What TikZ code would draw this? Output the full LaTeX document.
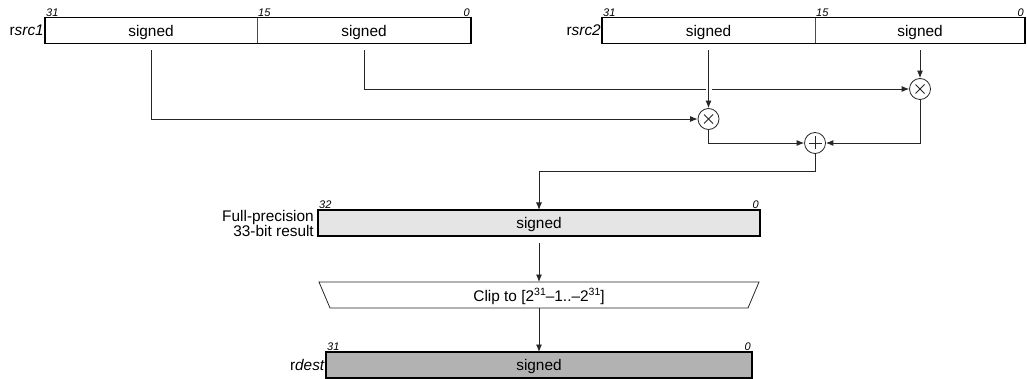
\documentclass[tikz,border=0pt]{standalone}
\usepackage{fontspec}
\setmainfont{Liberation Sans}
\usetikzlibrary{arrows.meta}
\newcommand{\supx}[1]{\raisebox{5.5pt}{\fontsize{10.5}{10}\selectfont #1}}
\begin{document}
\begin{tikzpicture}[x=1pt,y=-1pt,
  font=\fontsize{15.4}{17}\selectfont,
  half/.style={draw=black!70, line width=0.6pt, minimum height=26pt, inner sep=0pt, outer sep=0pt, text depth=0pt},
  frame/.style={draw=black, line width=1.6pt},
  bit/.style={font=\fontsize{11}{12}\selectfont\itshape, inner sep=1pt},
  conn/.style={line width=0.9pt, draw=black!85},
  arr/.style={conn, -{Latex[length=7.5pt,width=6pt]}},
  op/.style={circle, draw=black!85, line width=0.8pt, minimum size=21pt, inner sep=0pt},
  lab/.style={inner sep=1pt},
  times/.style={op, path picture={\draw[line width=0.8pt] ([shift={(-4.5pt,-4.5pt)}]path picture bounding box.center) -- ([shift={(4.5pt,4.5pt)}]path picture bounding box.center);
    \draw[line width=0.8pt] ([shift={(-4.5pt,4.5pt)}]path picture bounding box.center) -- ([shift={(4.5pt,-4.5pt)}]path picture bounding box.center);}},
  plus/.style={op, path picture={\draw[line width=0.8pt] ([shift={(-6.5pt,0pt)}]path picture bounding box.center) -- ([shift={(6.5pt,0pt)}]path picture bounding box.center);
    \draw[line width=0.8pt] ([shift={(0pt,-6.5pt)}]path picture bounding box.center) -- ([shift={(0pt,6.5pt)}]path picture bounding box.center);}},
]
\useasboundingbox (0,0) rectangle (1027,379);

% rsrc1
\node[half, minimum width=212pt] (s1h) at (151,30.5) {signed};
\node[half, minimum width=214pt] (s1l) at (364,30.5) {signed};
\draw[frame] (s1h.north west) rectangle (s1l.south east);
\node[bit, anchor=south west] (b1a) at (s1h.north west) {31};
\node[bit, anchor=south west] (b1b) at (s1l.north west) {15};
\node[bit, anchor=south east] (b1c) at (s1l.north east) {0};
\node[lab, anchor=east] (n1) at (s1h.west) {r\textit{src1}};

% rsrc2
\node[half, minimum width=213pt] (s2h) at (708.5,30.5) {signed};
\node[half, minimum width=210pt] (s2l) at (920,30.5) {signed};
\draw[frame] (s2h.north west) rectangle (s2l.south east);
\node[bit, anchor=south west] (b2a) at (s2h.north west) {31};
\node[bit, anchor=south west] (b2b) at (s2l.north west) {15};
\node[bit, anchor=south east] (b2c) at (s2l.north east) {0};
\node[lab, anchor=east] (n2) at (s2h.west) {r\textit{src2}};

% operators
\node[times] (m1) at (708.5,119) {};
\node[times] (m2) at (920,89) {};
\node[plus] (pl) at (815,143) {};

% connectors
\draw[arr, shorten <=7pt] (s1h.south) |- (m1.west);
\draw[arr, shorten <=7pt] (s1l.south) |- (m2.west);
\coordinate (x1) at (s2h.south |- m2.west);
\fill[white] ([shift={(-3pt,-3pt)}]x1) rectangle ([shift={(3pt,3pt)}]x1);
\draw[arr, shorten <=7pt] (s2h.south) -- (m1.north);
\draw[arr, shorten <=7pt] (s2l.south) -- (m2.north);
\draw[arr] (m1.south) |- (pl.west);
\draw[arr] (m2.south) |- (pl.east);

% result
\node[half, draw=none, fill=black!10, minimum width=442pt] (res) at (539,223) {signed};
\draw[frame] (res.north west) rectangle (res.south east);
\node[bit, anchor=south west] (b3a) at (res.north west) {32};
\node[bit, anchor=south east] (b3b) at (res.north east) {0};
\node[lab, anchor=east, align=right, font=\fontsize{15.4}{15}\selectfont] (n3) at ([xshift=-3pt]res.west) {Full-precision\\33-bit result};

\path (pl.south) ++(0,18) coordinate (pj);
\draw[arr] (pl.south) -- (pj) -| (res.north);

% clip
\node[inner sep=0pt, outer sep=0pt, minimum width=440pt, minimum height=26pt, text depth=0pt] (clip) at (539,295) {Clip to [2\supx{31}–1..–2\supx{31}]};
\draw[line width=0.8pt, draw=black!85] (clip.north west) -- (clip.north east) -- ([xshift=-11pt]clip.south east) -- ([xshift=11pt]clip.south west) -- cycle;
\draw[arr, shorten <=7pt] (res.south) -- (clip.north);

% rdest
\node[half, draw=none, fill=black!30, minimum width=426pt] (dst) at (539,365) {signed};
\draw[frame] (dst.north west) rectangle (dst.south east);
\node[bit, anchor=south west] (b4a) at (dst.north west) {31};
\node[bit, anchor=south east] (b4b) at (dst.north east) {0};
\node[lab, anchor=east] (n4) at (dst.west) {r\textit{dest}};
\draw[arr] (clip.south) -- (dst.north);
\end{tikzpicture}
\end{document}
